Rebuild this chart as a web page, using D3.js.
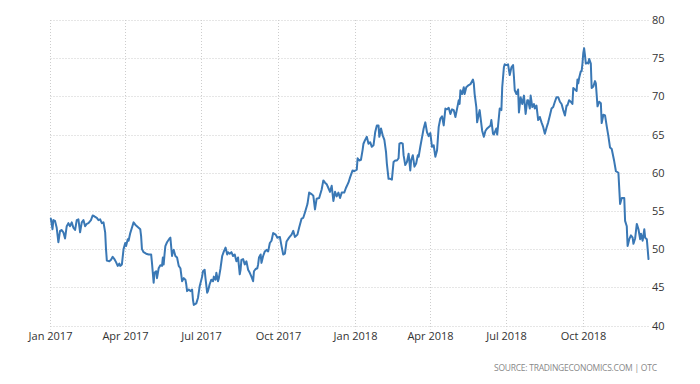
<!DOCTYPE html>
<html><head><meta charset="utf-8">
<script src="https://cdn.jsdelivr.net/npm/d3@7"></script>
<style>html,body{margin:0;padding:0;background:#fff;} svg{display:block;}</style>
</head><body>
<svg id="chart" width="700" height="384"></svg>
<script>
const xTickDates = ["2017-01-01","2017-04-01","2017-07-01","2017-10-01","2018-01-01","2018-04-01","2018-07-01","2018-10-01"];
const xTickLabels = ["Jan 2017","Apr 2017","Jul 2017","Oct 2017","Jan 2018","Apr 2018","Jul 2018","Oct 2018"];
const yTicks = [40,45,50,55,60,65,70,75,80];
const sourceText = "SOURCE:  TRADINGECONOMICS.COM  |  OTC";
const series = [
["2017-01-02",54],["2017-01-04",52.6],["2017-01-05",53.8],["2017-01-07",53.7],["2017-01-09",52.8],["2017-01-11",50.9],["2017-01-13",52.4],["2017-01-15",52.5],["2017-01-17",52.2],["2017-01-19",51.4],["2017-01-21",53],["2017-01-23",53.4],["2017-01-25",53],["2017-01-27",53.5],["2017-01-29",52.8],["2017-01-31",52.5],
["2017-02-02",53.8],["2017-02-04",53.9],["2017-02-06",52.2],["2017-02-08",53.5],["2017-02-10",53.8],["2017-02-12",53],["2017-02-14",53.3],["2017-02-16",53.4],["2017-02-19",53.8],["2017-02-21",54.4],["2017-02-23",54.3],["2017-02-26",54.1],["2017-02-28",53.8],
["2017-03-02",53.9],["2017-03-04",53.4],["2017-03-06",53.5],["2017-03-08",52.2],["2017-03-09",50],["2017-03-10",48.5],["2017-03-13",48.4],["2017-03-15",48.6],["2017-03-17",49],["2017-03-19",48.7],["2017-03-21",48.3],["2017-03-23",47.8],["2017-03-25",48.1],["2017-03-26",47.8],["2017-03-28",48],["2017-03-30",50],
["2017-04-01",50.8],["2017-04-02",50.4],["2017-04-04",51.3],["2017-04-05",51.1],["2017-04-07",52.1],["2017-04-09",52.8],["2017-04-11",53.5],["2017-04-13",53.2],["2017-04-15",53],["2017-04-17",52.8],["2017-04-19",52.6],["2017-04-20",51.7],["2017-04-21",50],["2017-04-23",49.6],["2017-04-26",49.4],["2017-04-29",49.3],
["2017-05-02",49.3],["2017-05-03",48.2],["2017-05-04",46.9],["2017-05-05",45.6],["2017-05-06",46.9],["2017-05-08",47.1],["2017-05-09",46.2],["2017-05-11",47.5],["2017-05-13",47.9],["2017-05-15",47.8],["2017-05-16",48.9],["2017-05-17",48],["2017-05-18",49.3],["2017-05-19",50.4],["2017-05-21",50.9],["2017-05-24",51.4],["2017-05-25",51.5],["2017-05-27",49.1],["2017-05-28",49.7],["2017-05-29",49.9],["2017-05-31",49.1],
["2017-06-02",48.9],["2017-06-04",47.8],["2017-06-06",47.5],["2017-06-08",45.8],["2017-06-10",46.2],["2017-06-12",46],["2017-06-13",45.4],["2017-06-14",44.5],["2017-06-16",44.7],["2017-06-18",44.5],["2017-06-20",44.7],["2017-06-21",43.4],["2017-06-22",42.7],["2017-06-25",42.9],["2017-06-27",43.6],["2017-06-29",45.1],
["2017-07-02",46.4],["2017-07-03",47.1],["2017-07-05",47.3],["2017-07-06",46.2],["2017-07-08",44.3],["2017-07-09",44.5],["2017-07-11",45.4],["2017-07-13",46],["2017-07-15",45.8],["2017-07-16",46.4],["2017-07-18",46],["2017-07-19",46.9],["2017-07-21",45.8],["2017-07-22",46.2],["2017-07-24",47.5],["2017-07-26",49.1],["2017-07-28",49.7],["2017-07-30",50.2],
["2017-08-01",49.3],["2017-08-02",49.6],["2017-08-04",49.4],["2017-08-06",49.6],["2017-08-08",49.1],["2017-08-10",49.3],["2017-08-12",48.4],["2017-08-14",48.9],["2017-08-16",46.7],["2017-08-17",47.3],["2017-08-18",48.6],["2017-08-20",48.7],["2017-08-22",48],["2017-08-24",48.4],["2017-08-26",47.3],["2017-08-28",46.9],["2017-08-30",46.4],
["2017-09-01",45.8],["2017-09-02",47.1],["2017-09-04",47.4],["2017-09-06",47.5],["2017-09-07",48],["2017-09-08",48.9],["2017-09-10",49.3],["2017-09-11",48.2],["2017-09-13",49.1],["2017-09-15",49.7],["2017-09-17",49.9],["2017-09-19",49.7],["2017-09-21",50.8],["2017-09-23",51.1],["2017-09-25",52.1],["2017-09-28",51.9],["2017-09-30",51.5],
["2017-10-03",51.6],["2017-10-05",50.4],["2017-10-07",49.3],["2017-10-09",49.4],["2017-10-11",51],["2017-10-14",51.5],["2017-10-17",51.9],["2017-10-19",52.4],["2017-10-21",51.6],["2017-10-24",51.9],["2017-10-26",52.8],["2017-10-29",54],["2017-10-31",54.1],
["2017-11-02",54.8],["2017-11-05",55.9],["2017-11-07",57.4],["2017-11-10",57.2],["2017-11-12",57],["2017-11-14",55.2],["2017-11-16",56.6],["2017-11-19",56.7],["2017-11-22",57.8],["2017-11-24",59],["2017-11-26",58.7],["2017-11-28",58.5],["2017-11-30",58],
["2017-12-02",57.5],["2017-12-04",58.3],["2017-12-06",56.3],["2017-12-08",57.5],["2017-12-10",56.9],["2017-12-12",57.4],["2017-12-14",56.7],["2017-12-16",57.4],["2017-12-19",57.4],["2017-12-21",58],["2017-12-24",58.7],["2017-12-26",59.4],["2017-12-29",60.3],["2017-12-31",60.2],
["2018-01-03",60.4],["2018-01-04",61.9],["2018-01-06",61.6],["2018-01-08",61.7],["2018-01-10",63],["2018-01-11",63.8],["2018-01-13",64.3],["2018-01-15",64.7],["2018-01-17",63.8],["2018-01-19",64],["2018-01-21",63.4],["2018-01-23",63.6],["2018-01-25",65.3],["2018-01-27",66.2],["2018-01-29",66.2],["2018-01-30",64.7],
["2018-02-01",65.8],["2018-02-03",64.9],["2018-02-05",64.3],["2018-02-07",62.7],["2018-02-08",61.2],["2018-02-10",59.2],["2018-02-12",59.2],["2018-02-14",59.1],["2018-02-16",61.4],["2018-02-18",61.6],["2018-02-20",61.6],["2018-02-22",61.9],["2018-02-23",63.8],["2018-02-25",63.9],["2018-02-27",63.8],["2018-02-28",62.3],
["2018-03-02",61],["2018-03-04",61.4],["2018-03-06",62.5],["2018-03-08",60.3],["2018-03-09",61.6],["2018-03-11",62.3],["2018-03-13",60.8],["2018-03-15",61.2],["2018-03-17",62.3],["2018-03-18",62.1],["2018-03-20",63.4],["2018-03-22",64.6],["2018-03-24",65.8],["2018-03-26",66.6],["2018-03-28",65.3],["2018-03-30",64.8],
["2018-04-01",65.2],["2018-04-03",63.4],["2018-04-05",63.6],["2018-04-07",62.1],["2018-04-09",62.9],["2018-04-11",66],["2018-04-13",67.1],["2018-04-15",67.4],["2018-04-17",66.2],["2018-04-19",68.4],["2018-04-21",68.3],["2018-04-23",68.5],["2018-04-25",67.7],["2018-04-27",68.3],["2018-04-29",68.2],
["2018-05-01",67.3],["2018-05-03",68.4],["2018-05-05",69.5],["2018-05-06",69],["2018-05-07",70.8],["2018-05-09",70.3],["2018-05-11",71.2],["2018-05-12",70.3],["2018-05-14",71.2],["2018-05-16",71.4],["2018-05-19",71.6],["2018-05-22",72.2],["2018-05-23",71.7],["2018-05-24",70.3],["2018-05-26",68.6],["2018-05-27",66.6],["2018-05-29",67.7],["2018-05-30",68.2],
["2018-06-01",66.4],["2018-06-02",65.5],["2018-06-04",64.7],["2018-06-06",65.5],["2018-06-08",65.8],["2018-06-10",66],["2018-06-12",66.2],["2018-06-13",66.9],["2018-06-15",65.1],["2018-06-16",65],["2018-06-19",65.8],["2018-06-20",65],["2018-06-23",68.4],["2018-06-25",68.2],["2018-06-26",71.2],["2018-06-28",73.8],["2018-06-29",74.2],
["2018-07-01",74.1],["2018-07-03",74.2],["2018-07-05",72.8],["2018-07-07",73.8],["2018-07-09",74.1],["2018-07-10",72.6],["2018-07-11",70.8],["2018-07-13",70.3],["2018-07-14",70.6],["2018-07-15",70.9],["2018-07-16",67.9],["2018-07-18",69.9],["2018-07-20",69],["2018-07-22",70.1],["2018-07-24",67.7],["2018-07-26",69.5],["2018-07-27",69.5],["2018-07-29",68.4],["2018-07-30",70.1],
["2018-08-01",68.6],["2018-08-03",69],["2018-08-04",68.4],["2018-08-06",68.8],["2018-08-08",66.9],["2018-08-10",67.3],["2018-08-12",66.6],["2018-08-14",66],["2018-08-16",65.1],["2018-08-18",65.9],["2018-08-20",66.6],["2018-08-22",67.5],["2018-08-24",68.4],["2018-08-26",68.6],["2018-08-28",69.3],["2018-08-30",69.9],
["2018-09-01",69.9],["2018-09-03",69.3],["2018-09-05",69],["2018-09-07",68.2],["2018-09-09",67.5],["2018-09-11",68.8],["2018-09-12",68.8],["2018-09-14",69.5],["2018-09-16",69.3],["2018-09-18",69],["2018-09-19",71.1],["2018-09-21",70.9],["2018-09-23",70.7],["2018-09-24",72.2],["2018-09-25",71.7],["2018-09-26",72.4],["2018-09-28",73.3],["2018-09-29",73.3],["2018-09-30",74.3],
["2018-10-01",75.7],["2018-10-02",76.3],["2018-10-03",75.4],["2018-10-04",74.3],["2018-10-06",74.4],["2018-10-07",74.3],["2018-10-08",74.9],["2018-10-10",74.3],["2018-10-11",71.1],["2018-10-13",71.3],["2018-10-15",72],["2018-10-16",71.7],["2018-10-18",68.7],["2018-10-20",69.3],["2018-10-22",69.1],["2018-10-23",66.5],["2018-10-25",67.6],["2018-10-27",67.5],["2018-10-29",66.1],["2018-10-31",64.8],
["2018-11-02",63.3],["2018-11-04",63.1],["2018-11-07",61.5],["2018-11-09",60.2],["2018-11-12",60],["2018-11-14",55.9],["2018-11-16",56.7],["2018-11-19",56.7],["2018-11-20",53.7],["2018-11-22",53],["2018-11-23",50.4],["2018-11-25",51.3],["2018-11-27",51.8],["2018-11-29",51.5],["2018-11-30",50.7],
["2018-12-02",51.4],["2018-12-04",53.3],["2018-12-06",52.6],["2018-12-08",51.3],["2018-12-09",52],["2018-12-11",51.1],["2018-12-13",52.6],["2018-12-14",51.5],["2018-12-16",51.3],["2018-12-18",48.7]
];

(function () {
const parse = d3.utcParse("%Y-%m-%d");
const data = series.map(([d, v]) => ({date: parse(d), value: v}));
const tickDates = xTickDates.map(parse);

const pL = 50, pR = 648.5, pT = 20, pB = 325.5;
const x = d3.scaleUtc().domain([parse("2017-01-01"), data[data.length - 1].date]).range([pL, pR]);
const y = d3.scaleLinear().domain([40, 80]).range([pB, pT]);

const svg = d3.select("#chart");
const gridColor = "#cdcdcd";
const font = "'Open Sans', 'Noto Sans', sans-serif";

// horizontal grid lines + right labels
const yAxis = d3.axisRight(y).tickValues(yTicks).tickSize(-(pR - pL)).tickPadding(4).tickFormat(d3.format("d"));
const gy = svg.append("g").attr("transform", `translate(${pR},0)`).call(yAxis);
gy.select(".domain").remove();
gy.selectAll(".tick").attr("transform", d => `translate(0,${Math.round(y(d)) + 0.5})`);
gy.selectAll(".tick line").attr("stroke", gridColor).attr("stroke-dasharray", "1,2").attr("x2", -(pR - pL));
gy.selectAll(".tick text").attr("x", 3.5).attr("fill", "#333").style("font-family", font).style("font-size", "11px");

// vertical grid lines + bottom labels
const xAxis = d3.axisBottom(x).tickValues(tickDates).tickSize(4).tickPadding(3).tickFormat((d, i) => xTickLabels[i]);
const gx = svg.append("g").attr("transform", `translate(0,${pB})`).call(xAxis);
gx.select(".domain").remove();
gx.selectAll(".tick").attr("transform", d => `translate(${Math.round(x(d)) + 0.5},0)`);
gx.selectAll(".tick line").attr("stroke", gridColor).attr("stroke-dasharray", "1,2").attr("y1", -(pB - pT)).attr("y2", 4);
gx.selectAll(".tick text").attr("fill", "#333").style("font-family", font).style("font-size", "11px");

// line
const line = d3.line().x(d => x(d.date)).y(d => y(d.value));
svg.append("path").datum(data)
  .attr("d", line)
  .attr("fill", "none")
  .attr("stroke", "#3a78b5")
  .attr("stroke-width", 2)
  .attr("stroke-linejoin", "round")
  .attr("stroke-linecap", "round");

// source
svg.append("text")
  .attr("x", 657).attr("y", 371)
  .attr("text-anchor", "end")
  .attr("fill", "#888")
  .style("font-family", font)
  .style("font-size", "8.5px")
  .attr("textLength", 163)
  .attr("lengthAdjust", "spacing")
  .text(sourceText);
})();
</script>
</body></html>
